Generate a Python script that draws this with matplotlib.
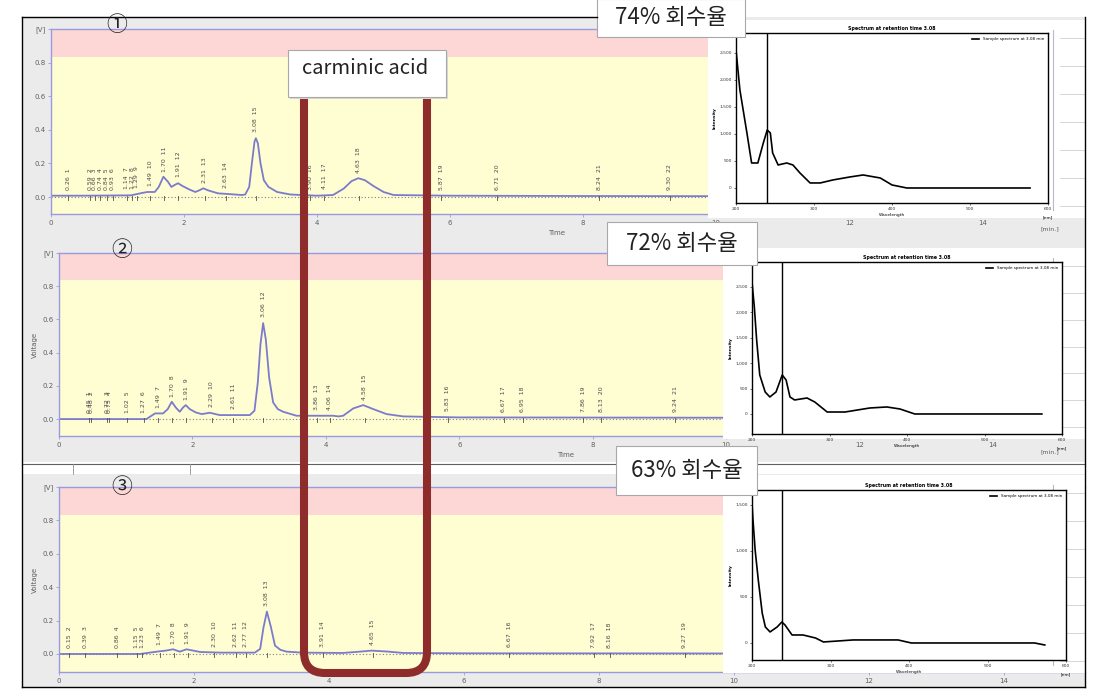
import numpy as np
import matplotlib.pyplot as plt
from matplotlib.patches import Rectangle, PathPatch
from matplotlib.path import Path

plt.rcParams['font.family'] = ['DejaVu Sans']

W, H = 1105, 698
KR = ['Noto Sans CJK KR', 'DejaVu Sans']

PANEL = '#ebebeb'
YELLOW = '#fffdd2'
PINK = '#fdd6d6'
TRACE = '#7b7bcc'
AXIS = '#9a9ae0'
BROWN = '#8e2c2c'

# --- chromatogram traces (time [min], voltage [V]) ---
t1 = [0, 0.5, 1.2, 1.38, 1.45, 1.56, 1.62, 1.69, 1.76, 1.81, 1.86, 1.91, 1.98, 2.08,
      2.17, 2.23, 2.29, 2.36, 2.51, 2.66, 2.87, 2.92, 2.98, 3.02, 3.06, 3.08, 3.11,
      3.15, 3.20, 3.27, 3.40, 3.60, 4.0, 4.24, 4.40, 4.52, 4.62, 4.72, 4.85, 5.0,
      5.15, 6.0, 8.0, 10.0, 15.2]
v1 = [0.008, 0.008, 0.01, 0.025, 0.03, 0.03, 0.06, 0.121, 0.09, 0.06, 0.072, 0.082,
      0.065, 0.045, 0.03, 0.04, 0.052, 0.04, 0.022, 0.018, 0.012, 0.015, 0.06, 0.20,
      0.33, 0.35, 0.32, 0.20, 0.10, 0.06, 0.03, 0.015, 0.008, 0.012, 0.05, 0.095,
      0.112, 0.10, 0.065, 0.03, 0.012, 0.008, 0.006, 0.005, 0.005]

t2 = [0, 1.31, 1.44, 1.56, 1.63, 1.69, 1.75, 1.81, 1.86, 1.90, 1.96, 2.05, 2.14, 2.26,
      2.41, 2.86, 2.93, 2.98, 3.02, 3.06, 3.10, 3.15, 3.21, 3.28, 3.36, 3.56, 4.11,
      4.19, 4.26, 4.41, 4.56, 4.71, 4.91, 5.16, 6.0, 10.0, 15.2]
v2 = [0.0, 0.0, 0.034, 0.034, 0.06, 0.104, 0.07, 0.044, 0.07, 0.084, 0.06, 0.04, 0.03,
      0.038, 0.024, 0.024, 0.05, 0.22, 0.45, 0.578, 0.48, 0.25, 0.10, 0.06, 0.044,
      0.02, 0.02, 0.016, 0.02, 0.064, 0.084, 0.06, 0.03, 0.016, 0.01, 0.008, 0.008]

t3 = [0, 1.2, 1.45, 1.58, 1.69, 1.79, 1.89, 2.09, 2.39, 2.90, 2.98, 3.03, 3.08, 3.14,
      3.20, 3.28, 3.37, 3.60, 4.20, 4.40, 4.63, 4.85, 5.10, 6.0, 10.0, 15.2]
v3 = [0.0, 0.0, 0.014, 0.02, 0.028, 0.014, 0.028, 0.012, 0.008, 0.008, 0.03, 0.16,
      0.254, 0.16, 0.05, 0.025, 0.014, 0.008, 0.006, 0.012, 0.02, 0.015, 0.006,
      0.004, 0.003, 0.003]

# peak tables: retention time and peak number
pk1_t = [0.26, 0.59, 0.66, 0.74, 0.84, 0.93, 1.14, 1.22, 1.29, 1.49, 1.70, 1.91, 2.31,
         2.63, 3.08, 3.90, 4.11, 4.63, 5.87, 6.71, 8.24, 9.30]
pk1_n = [1, 2, 3, 4, 5, 6, 7, 8, 9, 10, 11, 12, 13, 14, 15, 16, 17, 18, 19, 20, 21, 22]

pk2_t = [0.45, 0.48, 0.72, 0.75, 1.02, 1.27, 1.49, 1.70, 1.91, 2.29, 2.61, 3.06, 3.86,
         4.06, 4.58, 5.83, 6.67, 6.95, 7.86, 8.13, 9.24]
pk2_n = [1, 2, 3, 4, 5, 6, 7, 8, 9, 10, 11, 12, 13, 14, 15, 16, 17, 18, 19, 20, 21]

pk3_t = [0.15, 0.39, 0.86, 1.15, 1.23, 1.49, 1.70, 1.91, 2.30, 2.62, 2.77, 3.08, 3.91,
         4.65, 6.67, 7.92, 8.16, 9.27]
pk3_n = [2, 3, 4, 5, 6, 7, 8, 9, 10, 11, 12, 13, 14, 15, 16, 17, 18, 19]

# --- UV spectra of the carminic acid peak ---
uv1_nm = [200, 205, 214, 220, 228, 235, 240, 244, 247, 254, 265, 273, 282, 295, 308,
          324, 346, 363, 385, 400, 419, 577]
uv1_ab = [2555, 1815, 1019, 463, 463, 833, 1074, 1019, 648, 426, 463, 426, 278, 93, 93,
          148, 204, 241, 185, 56, 0, 0]
uv2_nm = [200, 203, 206, 210, 217, 223, 231, 239, 244, 249, 255, 271, 281, 297, 320,
          352, 374, 391, 410, 574]
uv2_ab = [2598, 2106, 1457, 768, 433, 335, 433, 768, 669, 335, 276, 315, 236, 39, 39,
          118, 138, 98, 0, 0]
uv3_nm = [200, 201, 204, 208, 213, 217, 223, 232, 238, 242, 251, 265, 281, 291, 329,
          386, 403, 560, 573]
uv3_ab = [1522, 1370, 1011, 685, 326, 174, 120, 174, 228, 196, 87, 87, 54, 11, 33, 33,
          0, 0, -22]
uv_mark = [240, 239, 238]
recovery = ['74% 회수율', '72% 회수율', '63% 회수율']


def px_rect(x0, y0, x1, y1):
    return [x0 / W, 1 - y1 / H, (x1 - x0) / W, (y1 - y0) / H]


def overlay(z):
    a = fig.add_axes([0, 0, 1, 1], zorder=z)
    a.set_xlim(0, W)
    a.set_ylim(H, 0)
    a.axis('off')
    a.patch.set_alpha(0)
    return a


def chromatogram(rect, ylo, t, v, pk_t, pk_n, show_time=True, show_ylabel=True):
    ax = fig.add_axes(px_rect(*rect), zorder=1)
    ax.set_facecolor(YELLOW)
    ax.axhspan(0.835, 1.0, color=PINK, lw=0, zorder=0)
    ax.axhline(0, color='#808080', lw=0.8, ls=(0, (1, 2)), zorder=1)
    ax.plot(t, v, color=TRACE, lw=1.3, zorder=2)
    for pt, pn in zip(pk_t, pk_n):
        h = np.interp(pt, t, v)
        ax.text(pt, h + 0.035, f'{pt:.2f}  {pn}', rotation=90, ha='center',
                va='bottom', fontsize=4.5, color='#4a4a4a')
        ax.plot([pt, pt], [-0.018, 0.006], color='#505050', lw=0.6)
    ax.set_xlim(0, 15.2)
    ax.set_ylim(ylo, 1.0)
    ax.set_xticks([0, 2, 4, 6, 8, 10, 12, 14])
    ax.set_yticks([0, 0.2, 0.4, 0.6, 0.8, 1.0])
    ax.set_yticklabels(['0.0', '0.2', '0.4', '0.6', '0.8', '[V]'])
    ax.tick_params(labelsize=5, length=2, width=0.6, color=AXIS, labelcolor='#606060',
                   pad=2)
    for s in ('left', 'bottom', 'top'):
        ax.spines[s].set_color(AXIS)
        ax.spines[s].set_linewidth(1.0)
    ax.spines['right'].set_visible(False)
    if show_ylabel:
        ax.set_ylabel('Voltage', fontsize=5, color='#606060', labelpad=3)
    if show_time:
        ax.set_xlabel('Time', fontsize=5, color='#606060', labelpad=3)
    return ax


def uv_panel(rect, nm, ab, mark, ylim, yticks):
    ax = fig.add_axes(px_rect(*rect), zorder=3)
    ax.set_facecolor('white')
    ax.plot(nm, ab, color='black', lw=1.2, label='Sample spectrum at 3.08 min')
    ax.axvline(mark, color='black', lw=1.0)
    ax.set_xlim(200, 600)
    ax.set_ylim(*ylim)
    ax.set_xticks([200, 300, 400, 500, 600])
    ax.set_yticks(yticks)
    ax.set_yticklabels([f'{y:,}' for y in yticks])
    ax.tick_params(labelsize=3.2, length=1.5, width=0.5, pad=1.5, colors='#333333')
    for s in ax.spines.values():
        s.set_linewidth(1.0)
    ax.set_xlabel('Wavelength', fontsize=3.2, labelpad=1)
    ax.set_ylabel('Intensity', fontsize=3.2, labelpad=2, fontweight='bold')
    ax.set_title('Spectrum at retention time 3.08', fontsize=3.4, pad=2,
                 fontweight='bold')
    ax.legend(loc='upper right', fontsize=3, frameon=False, handlelength=1.8,
              borderaxespad=0.6)
    ax.text(1.0, -0.07, '[nm]', transform=ax.transAxes, fontsize=3.2, ha='center',
            va='top')
    return ax


fig = plt.figure(figsize=(W / 100, H / 100), dpi=100)
fig.patch.set_facecolor('white')

# window backgrounds
bg = overlay(0)
bg.add_patch(Rectangle((22, 17), 1063, 445, fc=PANEL, ec='none'))
bg.add_patch(Rectangle((22, 474), 1063, 213, fc=PANEL, ec='none'))
bg.plot([22, 1085], [464, 464], color='#606060', lw=0.8)
for xv in (73, 190):
    bg.plot([xv, xv], [464, 474], color='#909090', lw=0.6)

# chromatograms
chromatogram((51, 29, 1062, 214), -0.101, t1, v1, pk1_t, pk1_n, show_ylabel=False)
chromatogram((59, 253, 1073, 436), -0.102, t2, v2, pk2_t, pk2_n)
chromatogram((59, 487, 1085, 672), -0.108, t3, v3, pk3_t, pk3_n, show_time=False)

# white spectrum windows covering the right part of each chromatogram
mid = overlay(2)
for (x0, y0, x1, y1) in [(708, 20, 1085, 218), (723, 248, 1085, 439), (723, 475, 1085, 673)]:
    mid.add_patch(Rectangle((x0, y0), x1 - x0, y1 - y0, fc='white', ec='none'))
    for yy in np.linspace(y0 + 18, y1 - 12, 7):
        mid.plot([x1 - 25, x1], [yy, yy], color='#d0d0d0', lw=0.6)
    mid.plot([x1 - 32, x1 - 32], [y0 + 10, y1 - 8], color='#b8b8cc', lw=0.8)
mid.text(1050, 229, '[min.]', fontsize=4.5, color='#606060', ha='center', va='center')
mid.text(1050, 452, '[min.]', fontsize=4.5, color='#606060', ha='center', va='center')

uv_panel((736, 33, 1048, 203), uv1_nm, uv1_ab, uv_mark[0], (-278, 2870),
         [0, 500, 1000, 1500, 2000, 2500])
uv_panel((752, 262, 1062, 434), uv2_nm, uv2_ab, uv_mark[1], (-394, 2992),
         [0, 500, 1000, 1500, 2000, 2500])
uv_panel((752, 490, 1066, 660), uv3_nm, uv3_ab, uv_mark[2], (-185, 1663),
         [0, 500, 1000, 1500])

# annotations on top
top = overlay(4)
top.plot([22, 597], [17, 17], color='black', lw=1.0)
top.plot([22, 22], [17, 687], color='black', lw=1.0)
top.plot([22, 1085], [687, 687], color='black', lw=1.0)
top.plot([1085, 1085], [17, 687], color='black', lw=1.0)

verts = [(304, 97), (304, 652), (304, 673), (325, 673), (406, 673), (427, 673),
         (427, 652), (427, 97)]
codes = [Path.MOVETO, Path.LINETO, Path.CURVE3, Path.CURVE3, Path.LINETO,
         Path.CURVE3, Path.CURVE3, Path.LINETO]
top.add_patch(PathPatch(Path(verts, codes), fill=False, ec=BROWN, lw=5.8,
                        capstyle='butt', joinstyle='round'))

top.add_patch(Rectangle((290, 52), 158, 47, fc='#d8d8d8', ec='none'))
top.add_patch(Rectangle((288, 50), 158, 47, fc='white', ec='#a8a8a8', lw=0.8))
top.text(365, 68, 'carminic acid', fontsize=14.5, family=KR, ha='center',
         va='center', color='#222222')

for (x0, y0, x1, y1), txt in zip([(597, -1, 745, 37), (607, 222, 757, 265),
                                   (616, 446, 757, 495)], recovery):
    top.add_patch(Rectangle((x0, y0), x1 - x0, y1 - y0, fc='white', ec='#a8a8a8',
                            lw=0.8))
    top.text((x0 + x1) / 2, (y0 + y1) / 2, txt, fontsize=16, family=KR,
             ha='center', va='center', color='#222222')

for (xc, yc), num in zip([(117, 25), (122, 250), (122, 487)], ['①', '②', '③']):
    top.text(xc, yc, num, fontsize=15, family=KR, ha='center', va='center',
             color='#222222')

fig.savefig('out.png', dpi=100)
